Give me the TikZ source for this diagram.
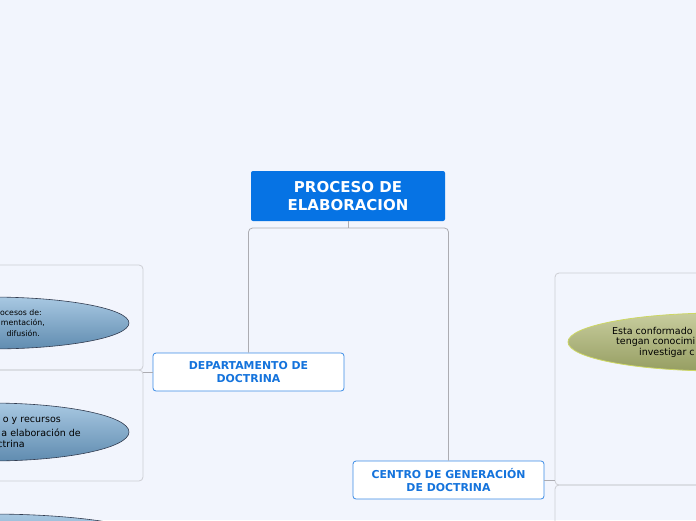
\documentclass[tikz,border=0pt]{standalone}
\usepackage{fontspec}
\setmainfont{DejaVu Sans}
\usetikzlibrary{positioning, shapes.geometric}
\definecolor{paperbg}{RGB}{242,245,253}
\definecolor{rootblue}{RGB}{6,115,228}
\definecolor{topicline}{RGB}{60,140,230}
\definecolor{topictext}{RGB}{20,115,220}
\definecolor{framegray}{RGB}{205,206,212}
\definecolor{linkgray}{RGB}{172,172,178}
\definecolor{bubbletop}{RGB}{168,200,226}
\definecolor{bubblebot}{RGB}{96,140,176}
\definecolor{bubbleline}{RGB}{50,60,80}
\definecolor{olivetop}{RGB}{200,205,158}
\definecolor{olivebot}{RGB}{150,158,98}
\definecolor{oliveline}{RGB}{205,215,100}

\begin{document}
\begin{tikzpicture}[
  x=1pt, y=-1pt,
  root/.style={fill=rootblue, rounded corners=2pt, minimum width=194pt, minimum height=50pt, inner sep=0pt,
    align=center, text=white, font=\fontsize{15}{18}\selectfont\bfseries},
  topic/.style={draw=topicline, line width=0.8pt, fill=white, rounded corners=3pt, minimum width=191pt,
    minimum height=38pt, inner sep=0pt, align=center, text=topictext, font=\fontsize{10.9}{13.5}\selectfont\bfseries},
  frame/.style={draw=framegray, line width=0.8pt, rounded corners=4pt, inner sep=0pt},
  link/.style={draw=linkgray, line width=0.8pt},
  bluebubble/.style={ellipse, draw=bubbleline, line width=0.6pt, top color=bubbletop, bottom color=bubblebot, inner sep=0pt},
  olivebubble/.style={ellipse, draw=oliveline, line width=0.8pt, top color=olivetop, bottom color=olivebot, inner sep=0pt},
  small/.style={inner sep=0pt, font=\fontsize{7.8}{10}\selectfont},
  note/.style={inner sep=0pt, font=\fontsize{9.5}{12}\selectfont},
]
  \useasboundingbox (0,0) rectangle (696,520);
  \clip (0,0) rectangle (696,520);
  \fill[paperbg] (0,0) rectangle (696,520);

  % frames round the sub topics
  \node[frame, minimum width=163pt, minimum height=105pt] (leftA) at (61.5,317.5) {};
  \node[frame, minimum width=163pt, minimum height=111pt] (leftB) at (61.5,425.5) {};
  \node[frame, minimum width=165pt, minimum height=212pt] (rightA) at (637.5,379) {};
  \node[frame, minimum width=165pt, minimum height=75pt]  (rightB) at (637.5,522.5) {};

  % main topics
  \node[root] (proceso) at (348,196) {PROCESO DE\\ELABORACION};
  \node[topic] (depto) at (248.5,372) {DEPARTAMENTO DE\\DOCTRINA};
  \node[topic] (centro) at (448.5,480) {CENTRO DE GENERACIÓN\\DE DOCTRINA};

  \coordinate (split) at (348,228);
  \draw[link] (proceso.south) -- (split);
  \draw[link, rounded corners=4pt] (depto.north) |- (split) -| (centro.north);
  \draw[link] (depto.west) -- (depto.west -| leftA.east);
  \draw[link] (centro.east) -- (centro.east -| rightA.west);

  % sub topics
  \node[bluebubble, minimum width=278pt, minimum height=52pt] (procesos) at (-10,323) {};
  \node[bluebubble, minimum width=278pt, minimum height=58pt] (recursos) at (-10,432) {};
  \node[bluebubble, minimum width=340pt, minimum height=58pt] (tercero) at (-10,543) {};
  \node[olivebubble, minimum width=304pt, minimum height=58pt] (conformado) at (720,342) {};

  \node[small, anchor=east] (pA) at (42,313) {ocesos de:};
  \node[small, anchor=east] (pB) at (45,323) {mentación,};
  \node[small, anchor=east] (pC) at (40,333) {difusión.};

  \node[note, anchor=east] (rA) at (61,421) {o y recursos};
  \node[note, anchor=east] (rB) at (81,433) {a elaboración de};
  \node[note, anchor=east] (rC) at (25,444) {ctrina};

  \node[note, anchor=west] (cA) at (612,331) {Esta conformado};
  \node[note, anchor=west] (cB) at (616,342) {tengan conocimi};
  \node[note, anchor=west] (cC) at (639,353) {investigar c};
\end{tikzpicture}
\end{document}
